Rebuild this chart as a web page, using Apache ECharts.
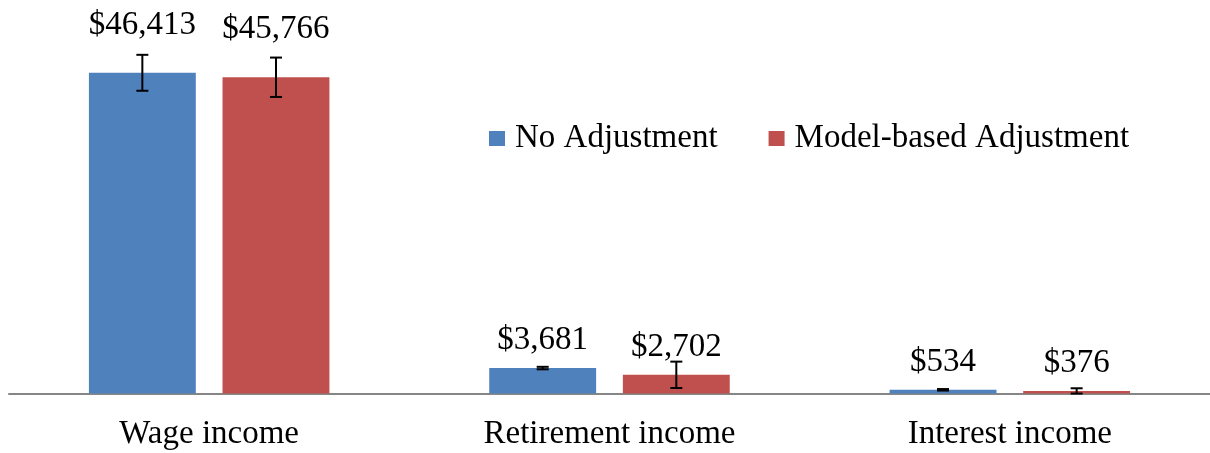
<!DOCTYPE html>
<html>
<head>
<meta charset="utf-8">
<script src="https://cdn.jsdelivr.net/npm/echarts@6/dist/echarts.min.js"></script>
<style>
html,body{margin:0;padding:0;background:#fff;}
#chart{width:1210px;height:453px;}
</style>
</head>
<body>
<div id="chart"></div>
<script>
const categories = ['Wage income', 'Retirement income', 'Interest income'];
const seriesNames = ['No Adjustment', 'Model-based Adjustment'];
const noAdj = [46413, 3681, 534];
const modelAdj = [45766, 2702, 376];
const noAdjErr = [2600, 180, 110];
const modelAdjErr = [2850, 1910, 380];

const FONT = '"Liberation Serif", "Times New Roman", serif';
const BLUE = '#4F81BD';
const RED = '#C0504D';

function fmt(v) { return '$' + v.toLocaleString('en-US'); }

function errRender(sign) {
  return function (params, api) {
    const i = api.value(0), v = api.value(1), e = api.value(2);
    const band = api.size([1, 0])[0];
    const x = api.coord([i, v])[0] + sign * 0.1669 * band;
    const top = api.coord([i, v + e])[1];
    const bot = api.coord([i, v - e])[1];
    const hw = 6;
    const st = { stroke: '#000', lineWidth: 2 };
    return {
      type: 'group',
      children: [
        { type: 'line', shape: { x1: x, y1: top, x2: x, y2: bot }, style: st },
        { type: 'line', shape: { x1: x - hw, y1: top, x2: x + hw, y2: top }, style: st },
        { type: 'line', shape: { x1: x - hw, y1: bot, x2: x + hw, y2: bot }, style: st }
      ]
    };
  };
}

function barData(vals) {
  return vals.map((v, i) => ({ value: v, label: { distance: i === 0 ? 31 : 11 } }));
}

const chart = echarts.init(document.getElementById('chart'), null, { renderer: 'canvas' });
chart.setOption({
  animation: false,
  backgroundColor: '#fff',
  grid: { left: 9, right: 0, top: 48, bottom: 59.5 },
  legend: {
    data: seriesNames,
    left: 484, top: 117,
    icon: 'rect', itemWidth: 16, itemHeight: 15, itemGap: 51,
    textStyle: { fontFamily: FONT, fontSize: 33, color: '#000', padding: [0, 0, 0, 5] }
  },
  xAxis: {
    type: 'category', data: categories,
    axisLine: { lineStyle: { color: '#868686', width: 2 } },
    axisTick: { show: false },
    axisLabel: { fontFamily: FONT, fontSize: 33, color: '#000', margin: 24 }
  },
  yAxis: {
    type: 'value', min: 0, max: 50000, show: false,
    splitLine: { show: false }
  },
  series: [
    {
      name: seriesNames[0], type: 'bar', data: barData(noAdj),
      barWidth: '26.7%', barGap: '25%', itemStyle: { color: BLUE },
      label: { show: true, position: 'top', fontFamily: FONT, fontSize: 33, color: '#000',
        formatter: p => fmt(p.value) }
    },
    {
      name: seriesNames[1], type: 'bar', data: barData(modelAdj),
      barWidth: '26.7%', barGap: '25%', itemStyle: { color: RED },
      label: { show: true, position: 'top', fontFamily: FONT, fontSize: 33, color: '#000',
        formatter: p => fmt(p.value) }
    },
    {
      type: 'custom', renderItem: errRender(-1), z: 5, silent: true,
      data: noAdj.map((v, i) => [i, v, noAdjErr[i]])
    },
    {
      type: 'custom', renderItem: errRender(1), z: 5, silent: true,
      data: modelAdj.map((v, i) => [i, v, modelAdjErr[i]])
    }
  ]
});
</script>
</body>
</html>
